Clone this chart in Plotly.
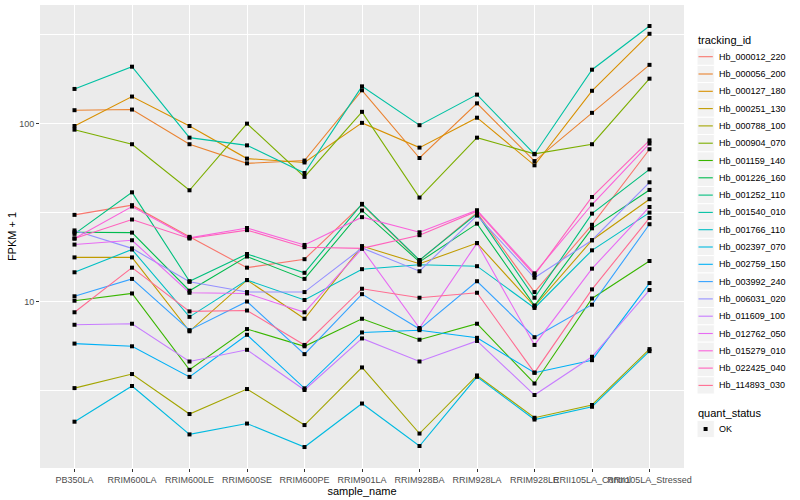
import plotly.graph_objects as go

# ---- data (values are FPKM + 1, as plotted) ----
sample_names = ["PB350LA", "RRIM600LA", "RRIM600LE", "RRIM600SE", "RRIM600PE",
                "RRIM901LA", "RRIM928BA", "RRIM928LA", "RRIM928LE",
                "RRII105LA_Control", "RRII105LA_Stressed"]

hb_000012_220 = [30.7, 34.8, 23.1, 15.5, 17.3, 35.1, 17.0, 31.6, 11.3, 27.0, 71.8]
hb_000056_200 = [119, 120, 76.6, 59.8, 62, 154, 64.1, 130, 61.6, 115, 214]
hb_000127_180 = [97, 142, 97, 63.6, 60.5, 101, 73.3, 108, 58.3, 153, 320]
hb_000251_130 = [17.7, 17.7, 6.8, 13.2, 8.0, 20.5, 16.3, 21.3, 9.4, 22.1, 37.6]
hb_000788_100 = [3.26, 3.91, 2.33, 3.22, 2.02, 4.26, 1.81, 3.84, 2.22, 2.62, 5.40]
hb_000904_070 = [92.5, 76.6, 42.2, 100, 50.2, 116.5, 38.4, 83.4, 67.6, 76.6, 179]
hb_001159_140 = [10.1, 11.1, 4.13, 7.0, 5.6, 8.0, 6.1, 7.5, 3.46, 10.4, 16.9]
hb_001226_160 = [24.5, 24.4, 11.5, 17.9, 13.4, 32.5, 16.7, 27.4, 9.5, 25.8, 42.4]
hb_001252_110 = [24.0, 41.1, 13.0, 18.5, 14.5, 35.4, 17.1, 31.1, 10.5, 31.2, 55.3]
hb_001540_010 = [156.7, 209, 83.4, 75.5, 52.8, 162, 98, 145.6, 67.3, 201, 354]
hb_001766_110 = [14.6, 19.6, 8.2, 13.2, 10.2, 15.2, 16.1, 15.8, 9.2, 19.4, 31.6]
hb_002397_070 = [2.11, 3.35, 1.79, 2.06, 1.52, 2.67, 1.54, 3.77, 2.17, 2.56, 5.26]
hb_002759_150 = [5.8, 5.6, 3.77, 6.5, 3.25, 6.7, 6.9, 6.25, 3.98, 4.68, 12.7]
hb_003992_240 = [10.7, 13.4, 6.9, 10.0, 5.06, 11.0, 7.0, 13.0, 6.3, 9.6, 27.2]
hb_006031_020 = [25.1, 19.9, 12.9, 11.3, 11.3, 20.0, 14.8, 30.4, 13.6, 22.1, 46.8]
hb_011609_100 = [7.4, 7.5, 4.6, 5.35, 3.18, 6.2, 4.6, 6.0, 2.98, 4.89, 11.6]
hb_012762_050 = [20.9, 22.1, 11.2, 11.1, 8.7, 19.8, 7.1, 21.3, 5.7, 15.3, 34.0]
hb_015279_010 = [22.6, 34.2, 22.8, 25.9, 20.8, 29.8, 24.5, 32.6, 14.4, 35.1, 77.3]
hb_022425_040 = [22.6, 28.9, 22.6, 25.2, 20.2, 19.9, 23.6, 32.2, 14.1, 38.7, 80.5]
hb_114893_030 = [8.7, 15.5, 8.8, 8.9, 5.7, 11.8, 10.5, 11.2, 3.98, 11.7, 29.5]

tracking_ids = ["Hb_000012_220", "Hb_000056_200", "Hb_000127_180", "Hb_000251_130",
                "Hb_000788_100", "Hb_000904_070", "Hb_001159_140", "Hb_001226_160",
                "Hb_001252_110", "Hb_001540_010", "Hb_001766_110", "Hb_002397_070",
                "Hb_002759_150", "Hb_003992_240", "Hb_006031_020", "Hb_011609_100",
                "Hb_012762_050", "Hb_015279_010", "Hb_022425_040", "Hb_114893_030"]

series_values = [hb_000012_220, hb_000056_200, hb_000127_180, hb_000251_130,
                 hb_000788_100, hb_000904_070, hb_001159_140, hb_001226_160,
                 hb_001252_110, hb_001540_010, hb_001766_110, hb_002397_070,
                 hb_002759_150, hb_003992_240, hb_006031_020, hb_011609_100,
                 hb_012762_050, hb_015279_010, hb_022425_040, hb_114893_030]

hue_colors = ["#F8766D", "#EA8331", "#D89000", "#C09B00", "#A3A500", "#7CAE00",
              "#39B600", "#00BB4E", "#00BF7D", "#00C1A3", "#00BFC4", "#00BAE0",
              "#00B0F6", "#35A2FF", "#9590FF", "#C77CFF", "#E76BF3", "#FA62DB",
              "#FF62BC", "#FF6C91"]

quant_status = ["OK"]

FONT = "Liberation Sans, Arial, sans-serif"

# panel geometry in pixels (layout only)
W, H = 800, 500
ML, MR, MT, MB = 40, 116, 5, 32
PW, PH = W - ML - MR, H - MT - MB


def px(x):
    return (x - ML) / PW


def py(y):
    return (H - MB - y) / PH


fig = go.Figure()
for name, vals, col in zip(tracking_ids, series_values, hue_colors):
    fig.add_trace(go.Scatter(
        x=sample_names, y=vals, mode="lines", name=name,
        line=dict(color=col, width=1.1), showlegend=False))

# points (quant_status = OK)
all_x = [s for vals in series_values for s in sample_names]
all_y = [v for vals in series_values for v in vals]
fig.add_trace(go.Scatter(
    x=all_x, y=all_y, mode="markers", name=quant_status[0],
    marker=dict(symbol="square", size=4, color="black"),
    showlegend=False))

# ---- ggplot-style legends ----
shapes = []
annotations = []
KX0, KX1 = 697, 714.3
KEY = 17.3
annotations.append(dict(x=px(696), y=py(40.5), xref="paper", yref="paper",
                        text="tracking_id", showarrow=False, xanchor="left",
                        yanchor="middle", font=dict(size=11, family=FONT, color="black")))
for i, (name, col) in enumerate(zip(tracking_ids, hue_colors)):
    yc = 56.7 + KEY * i
    shapes.append(dict(type="rect", xref="paper", yref="paper",
                       x0=px(KX0), x1=px(KX1), y0=py(yc - KEY / 2), y1=py(yc + KEY / 2),
                       fillcolor="#F2F2F2", line=dict(color="white", width=1)))
    shapes.append(dict(type="line", xref="paper", yref="paper",
                       x0=px(KX0 + 1.5), x1=px(KX1 - 1.5), y0=py(yc), y1=py(yc),
                       line=dict(color=col, width=1.1)))
    annotations.append(dict(x=px(717), y=py(yc), xref="paper", yref="paper",
                            text=name, showarrow=False, xanchor="left", yanchor="middle",
                            font=dict(size=9, family=FONT, color="black")))

annotations.append(dict(x=px(696), y=py(412.5), xref="paper", yref="paper",
                        text="quant_status", showarrow=False, xanchor="left",
                        yanchor="middle", font=dict(size=11, family=FONT, color="black")))
yc = 429
shapes.append(dict(type="rect", xref="paper", yref="paper",
                   x0=px(KX0), x1=px(KX1), y0=py(yc - KEY / 2), y1=py(yc + KEY / 2),
                   fillcolor="#F2F2F2", line=dict(color="white", width=1)))
shapes.append(dict(type="rect", xref="paper", yref="paper",
                   x0=px(703.6), x1=px(707.6), y0=py(yc - 2), y1=py(yc + 2),
                   fillcolor="black", line=dict(width=0)))
annotations.append(dict(x=px(717), y=py(yc), xref="paper", yref="paper",
                        text=quant_status[0], showarrow=False, xanchor="left",
                        yanchor="middle", font=dict(size=9, family=FONT, color="black")))

fig.update_layout(
    width=W, height=H,
    paper_bgcolor="white", plot_bgcolor="#EBEBEB",
    margin=dict(l=ML, r=MR, t=MT, b=MB),
    font=dict(family=FONT, color="black"),
    showlegend=False,
    shapes=shapes, annotations=annotations,
    xaxis=dict(
        type="category", categoryorder="array", categoryarray=sample_names,
        range=[-0.6, 10.6], tickangle=0,
        showgrid=True, gridcolor="white", gridwidth=1.1,
        ticks="outside", ticklen=3, tickcolor="#333333", tickwidth=1,
        tickfont=dict(size=9, color="#4D4D4D", family=FONT),
        showline=False, zeroline=False, automargin=False,
        title=dict(text="sample_name", font=dict(size=11, family=FONT), standoff=1),
    ),
    yaxis=dict(
        type="log", range=[0.064, 2.667],
        tickmode="array", tickvals=[10, 100], ticktext=["10", "100"],
        showgrid=True, gridcolor="white", gridwidth=1.1,
        minor=dict(tickmode="array", tickvals=[3.1623, 31.623, 316.23],
                   showgrid=True, gridcolor="white", gridwidth=0.55, ticks=""),
        ticks="outside", ticklen=3, tickcolor="#333333", tickwidth=1,
        tickfont=dict(size=9, color="#4D4D4D", family=FONT),
        showline=False, zeroline=False, automargin=False,
        title=dict(text="FPKM + 1", font=dict(size=11, family=FONT), standoff=0),
    ),
)

fig.write_html("out.html", config={"displayModeBar": False},
               post_script="document.body.style.margin='0px';")
